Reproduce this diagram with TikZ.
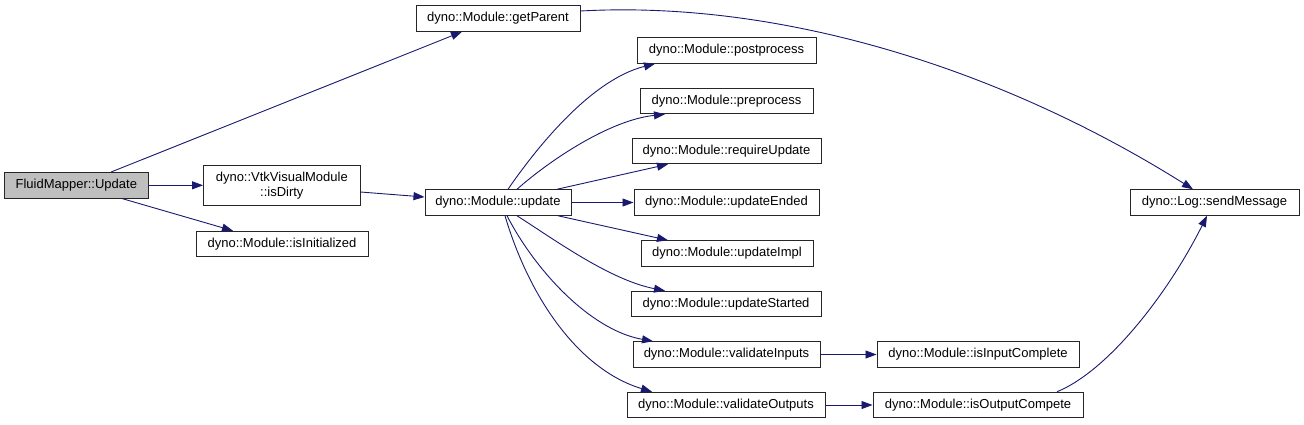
\documentclass[tikz,border=0pt]{standalone}
\usepackage{fontspec}
\setmainfont{Liberation Sans}
\usetikzlibrary{arrows.meta}
\definecolor{edgeblue}{HTML}{191970}
\definecolor{fmgray}{HTML}{BFBFBF}
\begin{document}
\begin{tikzpicture}[x=1pt,y=-1pt,
  fn/.style={draw=black!85,line width=1pt,inner sep=0pt,minimum height=25.5pt,
    font=\fontsize{13}{15}\selectfont,align=center},
  call/.style={draw=edgeblue,line width=0.9pt,-{Triangle[length=11pt,width=8pt]}}]
\useasboundingbox (0,0) rectangle (1304,424);
\node[fn,fill=fmgray,minimum width=143.5pt] (fm) at (76.3,185.3) {FluidMapper::Update};
\node[fn,minimum width=164pt] (gp) at (498,18.5) {dyno::Module::getParent};
\node[fn,minimum width=156.5pt,minimum height=40pt] (dirty) at (281.8,185.3) {dyno::VtkVisualModule\\::isDirty};
\node[fn,minimum width=172pt] (init) at (282,244) {dyno::Module::isInitialized};
\node[fn,minimum width=146pt] (upd) at (498,202.5) {dyno::Module::update};
\node[fn,minimum width=179pt] (pp) at (726.5,50.5) {dyno::Module::postprocess};
\node[fn,minimum width=173pt] (prep) at (726.5,101) {dyno::Module::preprocess};
\node[fn,minimum width=189pt] (ru) at (726.5,151) {dyno::Module::requireUpdate};
\node[fn,minimum width=185pt] (ue) at (726.5,202.5) {dyno::Module::updateEnded};
\node[fn,minimum width=172pt] (ui) at (727,253.5) {dyno::Module::updateImpl};
\node[fn,minimum width=190pt] (us) at (726,304) {dyno::Module::updateStarted};
\node[fn,minimum width=187pt] (vi) at (726.5,354.5) {dyno::Module::validateInputs};
\node[fn,minimum width=198pt] (vo) at (726,405) {dyno::Module::validateOutputs};
\node[fn,minimum width=169pt] (sm) at (1214.5,202.5) {dyno::Log::sendMessage};
\node[fn,minimum width=202pt] (iic) at (978,354.5) {dyno::Module::isInputComplete};
\node[fn,minimum width=210pt] (ioc) at (978,405) {dyno::Module::isOutputCompete};

\draw[call] ([xshift=34.7pt]fm.north) -- ([xshift=-36pt]gp.south);
\draw[call] (fm.east) -- (dirty.west);
\draw[call] ([xshift=45.7pt]fm.south) -- ([xshift=-49pt]init.north);
\draw[call] ([yshift=-6.7pt]dirty.east) -- ([yshift=5.5pt]upd.west);
\draw[call] ([yshift=7.5pt]gp.east) .. controls (780,0) and (1000,68) .. ([xshift=-21.5pt]sm.north);
\draw[call] ([xshift=10pt]upd.north) .. controls (535,150) and (590,80) .. ([xshift=-71.5pt]pp.south);
\draw[call] ([xshift=19pt]upd.north) .. controls (550,160) and (610,120) .. ([xshift=-61.5pt]prep.south);
\draw[call] ([xshift=59pt]upd.north) -- ([xshift=-58.5pt]ru.south);
\draw[call] (upd.east) -- (ue.west);
\draw[call] ([xshift=60pt]upd.south) -- ([xshift=-59pt]ui.north);
\draw[call] ([xshift=19pt]upd.south) .. controls (555,240) and (610,280) .. ([xshift=-61pt]us.north);
\draw[call] ([xshift=9pt]upd.south) .. controls (535,270) and (590,330) .. ([xshift=-73.5pt]vi.north);
\draw[call] ([xshift=7pt]upd.south) .. controls (530,300) and (580,370) .. ([xshift=-74pt]vo.north);
\draw[call] (vi.east) -- (iic.west);
\draw[call] (vo.east) -- (ioc.west);
\draw[call] ([xshift=79pt]ioc.north) .. controls (1110,370) and (1170,290) .. ([xshift=-7.5pt]sm.south);
\end{tikzpicture}
\end{document}
